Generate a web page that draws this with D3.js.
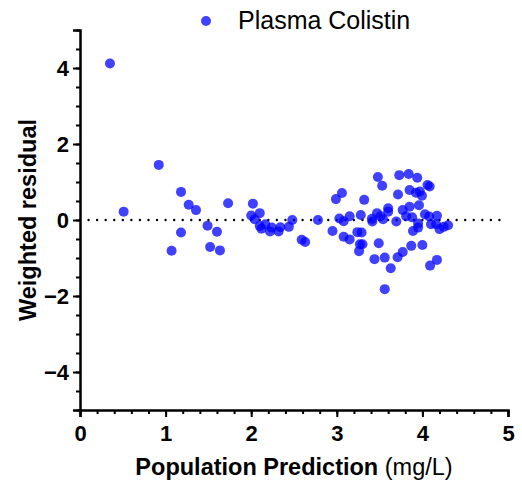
<!DOCTYPE html>
<html><head><meta charset="utf-8">
<script src="https://cdn.jsdelivr.net/npm/d3@7"></script>
<style>body{margin:0;background:#fff}svg{display:block}text{font-family:"Liberation Sans",Arial,sans-serif}</style>
</head><body><svg id="c" width="522" height="486"></svg>
<script>
const seriesName = "Plasma Colistin";
const xTitleBold = "Population Prediction";
const xTitleUnit = " (mg/L)";
const yTitle = "Weighted residual";
const xTickValues = [0,1,2,3,4,5];
const yTickValues = [-4,-2,0,2,4];
const predX = [0.35,0.51,0.92,1.07,1.18,1.18,1.27,1.355,1.49,1.52,1.60,1.635,1.73,2.02,2.00,2.10,2.04,2.10,2.12,2.165,2.22,2.24,2.32,2.34,2.44,2.48,2.59,2.63,2.78,2.99,3.06,2.95,3.03,3.08,3.15,3.08,3.15,3.24,3.29,3.28,3.32,3.27,3.30,3.26,3.41,3.415,3.47,3.44,3.49,3.48,3.53,3.54,3.51,3.60,3.60,3.695,3.56,3.63,3.56,3.715,3.73,3.84,3.94,3.85,3.925,3.97,3.995,4.06,4.085,3.77,3.85,3.96,3.81,3.88,4.03,4.08,4.17,3.95,3.95,3.89,4.10,4.16,4.20,4.25,4.30,3.87,4.00,3.77,3.71,4.09,4.17];
const wres = [4.12,0.22,1.45,-0.81,0.74,-0.33,0.40,0.26,-0.15,-0.71,-0.31,-0.80,0.44,0.43,0.12,0.18,0.02,-0.16,-0.23,-0.11,-0.30,-0.20,-0.30,-0.19,-0.18,0.00,-0.52,-0.58,0.00,0.55,0.71,-0.29,0.04,-0.03,0.10,-0.44,-0.51,-0.32,-0.33,0.13,0.53,-0.64,-0.64,-0.82,0.03,-0.04,0.18,-1.03,-0.61,1.13,0.90,0.02,0.10,0.31,0.22,-0.04,-0.99,-1.27,-1.82,0.67,1.18,1.21,1.11,0.79,0.72,0.75,0.64,0.92,0.88,0.26,0.35,0.39,0.10,0.07,0.15,0.09,0.11,-0.09,-0.20,-0.29,-0.11,-0.11,-0.24,-0.18,-0.14,-0.68,-0.66,-0.84,-0.98,-1.20,-1.05];

const svg = d3.select("#c");
const x = d3.scaleLinear().domain([0,5]).range([80,508]);
const y = d3.scaleLinear().domain([-5,5]).range([410,30]);
const fs = 23;

// zero reference line (dotted)
svg.append("line").attr("x1",x(0)).attr("x2",x(5)).attr("y1",y(0)).attr("y2",y(0))
  .attr("stroke","#000").attr("stroke-width",2.4).attr("stroke-linecap","round")
  .attr("stroke-dasharray","0,"+(x(0.1)-x(0)));

// points
svg.append("g").selectAll("circle").data(predX.map((v,i)=>[v,wres[i]])).join("circle")
  .attr("cx",d=>x(d[0])).attr("cy",d=>y(d[1])).attr("r",5)
  .attr("fill","#0000ff").attr("fill-opacity",0.75);

// axes
const xMinor = d3.range(0,5.0001,0.2);
const yMinor = d3.range(-5,5.0001,0.5);
const gx = svg.append("g").attr("transform","translate(0,410)");
gx.call(d3.axisBottom(x).tickValues(xMinor).tickSize(4).tickFormat(""));
gx.call(g=>g.select(".domain").remove());
const gx2 = svg.append("g").attr("transform","translate(0,410)")
  .call(d3.axisBottom(x).tickValues(xTickValues).tickSize(7).tickPadding(8).tickFormat(d3.format("d")));
gx2.selectAll("text").attr("font-size",22).attr("font-weight","bold").attr("fill","#000").attr("font-family","Liberation Sans, Arial");
[gx,gx2].forEach(g=>{g.selectAll("line").attr("stroke","#000").attr("stroke-width",2);});
gx2.select(".domain").attr("stroke","#000").attr("stroke-width",2.5);

const gy = svg.append("g").attr("transform","translate(80,0)");
gy.call(d3.axisLeft(y).tickValues(yMinor).tickSize(4).tickFormat(""));
gy.call(g=>g.select(".domain").remove());
const gy2 = svg.append("g").attr("transform","translate(80,0)")
  .call(d3.axisLeft(y).tickValues(yTickValues).tickSize(7).tickPadding(4).tickFormat(d3.format("d")));
gy2.selectAll("text").attr("font-size",22).attr("font-weight","bold").attr("fill","#000").attr("font-family","Liberation Sans, Arial");
[gy,gy2].forEach(g=>{g.selectAll("line").attr("stroke","#000").attr("stroke-width",2);});
gy2.select(".domain").attr("stroke","#000").attr("stroke-width",2.5);

// axis titles
const xt = svg.append("text").attr("x",294).attr("y",475).attr("text-anchor","middle").attr("font-size",23.5);
xt.append("tspan").attr("font-weight","bold").text(xTitleBold);
xt.append("tspan").text(xTitleUnit);
svg.append("text").attr("transform","translate(36,220) rotate(-90)").attr("text-anchor","middle")
  .attr("font-size",23.5).attr("font-weight","bold").text(yTitle);

// legend
svg.append("circle").attr("cx",206).attr("cy",21).attr("r",5).attr("fill","#0000ff").attr("fill-opacity",0.75);
svg.append("text").attr("x",238).attr("y",29).attr("font-size",25).text(seriesName);
</script></body></html>
